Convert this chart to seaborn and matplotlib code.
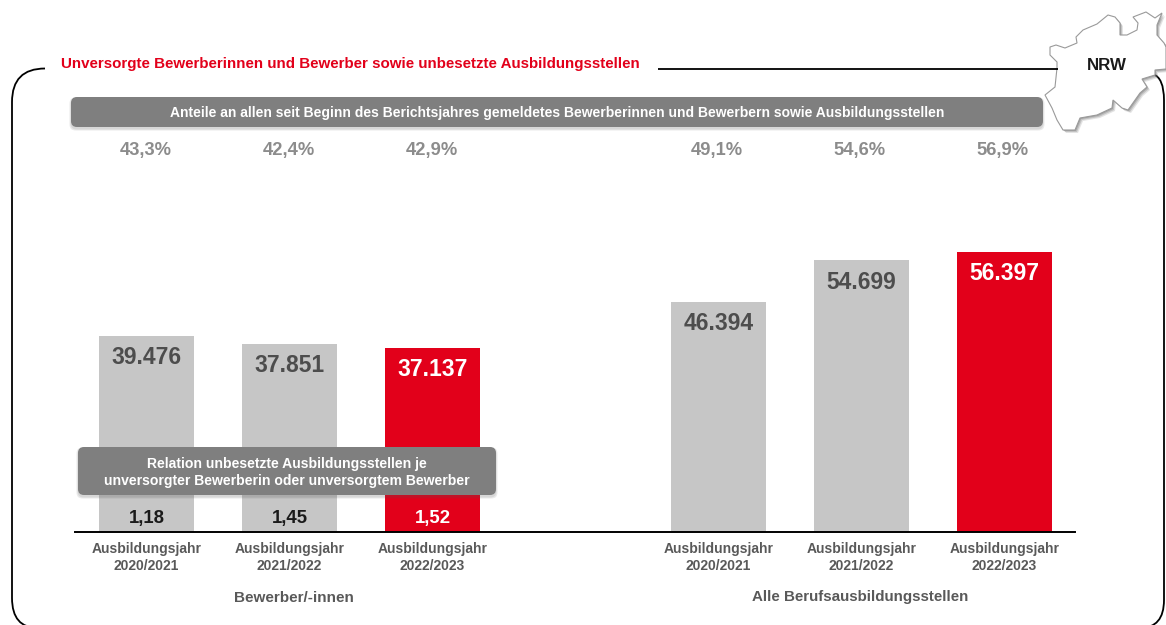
import matplotlib
matplotlib.use('Agg')
import matplotlib.pyplot as plt
from matplotlib.patches import FancyBboxPatch, PathPatch, Polygon
from matplotlib.path import Path
import pandas as pd
import seaborn as sns

# values
CATEGORIES = ['b1', 'b2', 'b3', 'gap', 'a1', 'a2', 'a3']
VALUES = [39476, 37851, 37137, 0, 46394, 54699, 56397]
VALUE_LABELS = ['39.476', '37.851', '37.137', '', '46.394', '54.699', '56.397']
SHARE_LABELS = ['43,3%', '42,4%', '42,9%', '', '49,1%', '54,6%', '56,9%']
RELATION_LABELS = ['1,18', '1,45', '1,52']
YEAR_LABELS = ['Ausbildungsjahr\n2020/2021', 'Ausbildungsjahr\n2021/2022', 'Ausbildungsjahr\n2022/2023', '',
               'Ausbildungsjahr\n2020/2021', 'Ausbildungsjahr\n2021/2022', 'Ausbildungsjahr\n2022/2023']
GROUP_LABELS = ['Bewerber/-innen', 'Alle Berufsausbildungsstellen']

TITLE = 'Unversorgte Bewerberinnen und Bewerber sowie unbesetzte Ausbildungsstellen'
BANNER_TOP = ('Anteile an allen seit Beginn des Berichtsjahres gemeldetes '
              'Bewerberinnen und Bewerbern sowie Ausbildungsstellen')
BANNER_REL = 'Relation unbesetzte Ausbildungsstellen je\nunversorgter Bewerberin oder unversorgtem Bewerber'

RED = '#E2001A'
LIGHT = '#C6C6C6'
DARK = '#7F7F7F'
TEXT_DARK = '#4D4D4D'
W, H = 1166, 625

# outline of the map in the corner, pixel coordinates
NRW_OUTLINE = [(1057, 68), (1057, 62), (1050, 55), (1050, 47), (1056, 45), (1065, 48), (1077, 43),
               (1076, 37), (1083, 30), (1097, 24), (1108, 15), (1115, 17), (1120, 23), (1120, 35),
               (1127, 35), (1137, 30), (1138, 23), (1133, 17), (1146, 12), (1155, 18), (1162, 13),
               (1157, 25), (1157, 35), (1164, 43), (1166, 47), (1166, 69), (1155, 70), (1155, 75),
               (1142, 79), (1147, 87), (1140, 93), (1128, 110), (1122, 108), (1113, 100), (1112, 108),
               (1097, 115), (1080, 118), (1075, 130), (1063, 130), (1057, 120), (1052, 108),
               (1045, 95), (1055, 87)]

plt.rcParams['font.family'] = ['Liberation Sans', 'DejaVu Sans']

fig = plt.figure(figsize=(W / 100, H / 100), dpi=100)

# overlay in pixel coordinates for frame and banners
deco = fig.add_axes([0, 0, 1, 1], zorder=3)
deco.set_xlim(0, W)
deco.set_ylim(H, 0)
deco.axis('off')
deco.patch.set_alpha(0)

# chart axes: x position 0 is at 146.5 px, one slot is 143 px, baseline at y=532
ax = fig.add_axes([75 / W, (H - 532) / H, 1000 / W, 400 / H], zorder=1)
df = pd.DataFrame({'cat': CATEGORIES, 'value': VALUES})
colors = [LIGHT, LIGHT, RED, LIGHT, LIGHT, LIGHT, RED]
sns.barplot(data=df, x='cat', y='value', hue='cat', palette=colors, legend=False,
            width=0.67, saturation=1, ax=ax)
ax.set_xlim(-0.5, 6.493)
ax.set_ylim(0, 400 / 0.004965)
ax.set_xlabel('')
ax.set_ylabel('')
ax.set_yticks([])
ax.set_xticks(range(len(CATEGORIES)))
ax.set_xticklabels(YEAR_LABELS, fontsize=10, fontweight='bold', color='#595959', linespacing=1.2)
ax.tick_params(axis='x', length=0, pad=7.5)
sns.despine(ax=ax, left=True, top=True, right=True)
ax.spines['bottom'].set_linewidth(1.4)
ax.spines['bottom'].set_color('black')
ax.patch.set_alpha(0)

for i, label in enumerate(VALUE_LABELS):
    if label:
        color = 'white' if colors[i] == RED else TEXT_DARK
        ax.annotate(label, (i, VALUES[i]), xytext=(0, -7.5), textcoords='offset points',
                    ha='center', va='top', fontsize=16.5, fontweight='bold', color=color)

for i, label in enumerate(RELATION_LABELS):
    color = 'white' if colors[i] == RED else '#1A1A1A'
    ax.annotate(label, (i, 0), xytext=(0.5, 10), textcoords='offset points',
                ha='center', va='center', fontsize=13.4, fontweight='bold', color=color)

for i, label in enumerate(SHARE_LABELS):
    if label:
        deco.text(145.7 + 143 * i - (i > 3) * 1.2, 151, label, ha='center', va='center',
                  fontsize=13.2, fontweight='bold', color='#8C8C8C')

deco.text(294, 598, GROUP_LABELS[0], ha='center', va='center', fontsize=11, fontweight='bold', color='#595959')
deco.text(860, 597, GROUP_LABELS[1], ha='center', va='center', fontsize=10.9, fontweight='bold', color='#595959')

# frame, with a gap for the title
frame_left = Path([(45, 68.5), (12, 68.5), (12, 102), (12, 598), (12, 628), (38, 628)],
                  [Path.MOVETO, Path.CURVE3, Path.CURVE3, Path.LINETO, Path.CURVE3, Path.CURVE3])
deco.add_patch(PathPatch(frame_left, fill=False, ec='black', lw=1.3))
deco.plot([658, 1058], [68.5, 68.5], color='black', lw=1.3, solid_capstyle='butt')
frame_right = Path([(1153, 74), (1164, 78), (1164, 100), (1164, 600), (1164, 628), (1140, 628)],
                   [Path.MOVETO, Path.CURVE3, Path.CURVE3, Path.LINETO, Path.CURVE3, Path.CURVE3])
deco.add_patch(PathPatch(frame_right, fill=False, ec='black', lw=1.3))

deco.text(61, 64, TITLE, ha='left', va='center', fontsize=10.9, fontweight='bold', color=RED)


def banner(x0, y0, x1, y1, text, fontsize, text_dy):
    # stacked translucent boxes give the soft shadow
    for grow in (1.5, 0.5):
        deco.add_patch(FancyBboxPatch((x0 + 4 - grow, y0 + 6 - grow), x1 - x0 - 8 + 2 * grow, y1 - y0 - 8 + 2 * grow,
                                      boxstyle='round,pad=4,rounding_size=6', fc='#555555', ec='none', alpha=0.12))
    deco.add_patch(FancyBboxPatch((x0 + 4, y0 + 4), x1 - x0 - 8, y1 - y0 - 8,
                                  boxstyle='round,pad=4,rounding_size=6', fc=DARK, ec='none'))
    deco.text((x0 + x1) / 2, (y0 + y1) / 2 + text_dy, text, ha='center', va='center', fontsize=fontsize,
              fontweight='bold', color='white', linespacing=1.32)


banner(71, 97, 1043, 127, BANNER_TOP, 10, 1.5)
banner(78, 447, 496, 495, BANNER_REL, 10.05, 1.5)

# map shape with soft shadow
for dx, dy, alpha in ((3, 3, 0.2), (2, 2, 0.3), (1, 1, 0.4)):
    deco.add_patch(Polygon([(x + dx, y + dy) for x, y in NRW_OUTLINE], closed=True, fc='#777777', ec='none', alpha=alpha))
deco.add_patch(Polygon(NRW_OUTLINE, closed=True, fc='white', ec='#9A9A9A', lw=0.8))
deco.text(1106.5, 65, 'NRW', ha='center', va='center', fontsize=12.2, fontweight='bold', color='#1A1A1A')

fig.savefig('out.png', dpi=100)
